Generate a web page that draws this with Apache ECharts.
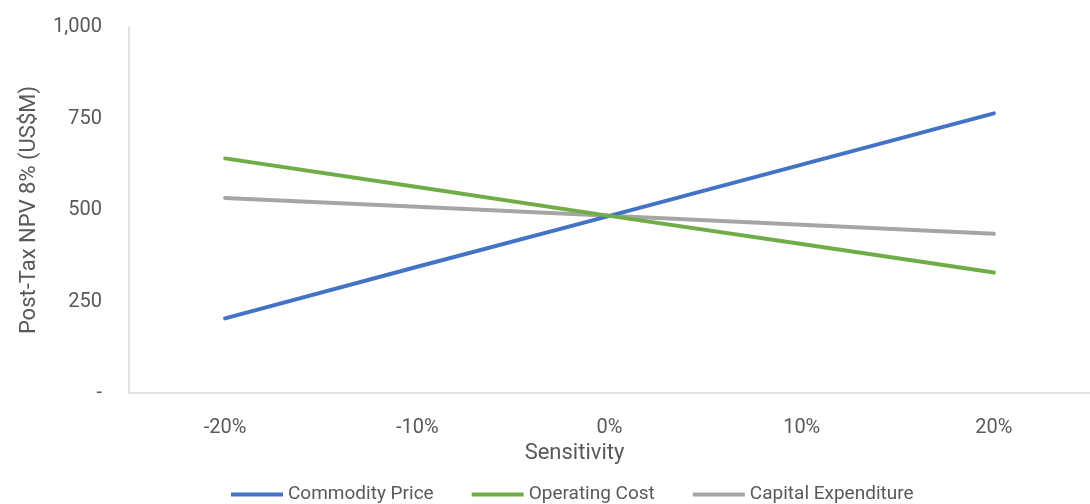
<!DOCTYPE html>
<html>
<head>
<meta charset="utf-8">
<script src="https://cdn.jsdelivr.net/npm/echarts@6/dist/echarts.min.js"></script>
<style>
  html, body { margin: 0; padding: 0; background: #fff; }
  #chart { width: 1090px; height: 504px; }
</style>
</head>
<body>
<div id="chart"></div>
<script>
const sensitivity = ['-20%', '-10%', '0%', '10%', '20%']
const commodityPrice = [204, 345, 484, 624, 764]
const operatingCost = [641, 563, 484, 407, 329]
const capitalExpenditure = [533, 509, 484, 460, 435]

const font = 'Roboto, sans-serif'
const textColor = '#595959'

let myChart = echarts.init(document.getElementById('chart'))
var option = {
    textStyle: { fontFamily: font },
    animation: false,
    grid: { left: 129, top: 27, width: 970, height: 366 },
    legend: {
        top: 480,
        left: 226,
        itemWidth: 52,
        itemHeight: 4,
        itemGap: 38,
        icon: 'rect',
        textStyle: { fontFamily: font, fontSize: 19, color: textColor },
        data: ['Commodity Price', 'Operating Cost', 'Capital Expenditure']
    },
    xAxis: {
        type: 'category',
        data: sensitivity,
        name: 'Sensitivity',
        nameLocation: 'middle',
        nameGap: 46,
        nameTextStyle: { fontFamily: font, fontSize: 22, color: textColor, padding: [0, 70, 0, 0] },
        axisLine: { lineStyle: { color: '#d9d9d9', width: 1.5 } },
        axisTick: { show: false },
        axisLabel: { fontFamily: font, fontSize: 20, color: textColor, margin: 25 }
    },
    yAxis: {
        type: 'value',
        min: 0,
        max: 1000,
        interval: 250,
        name: 'Post-Tax NPV 8% (US$M)',
        nameLocation: 'middle',
        nameGap: 89,
        nameTextStyle: { fontFamily: font, fontSize: 22, color: textColor },
        axisLine: { show: true, lineStyle: { color: '#d9d9d9', width: 1.5 } },
        axisTick: { show: false },
        splitLine: { show: false },
        axisLabel: {
            fontFamily: font, fontSize: 20, color: textColor, margin: 27,
            formatter: function (v) {
                if (v === 0) return '-'
                return v.toLocaleString('en-US')
            }
        }
    },
    series: [
        { name: 'Commodity Price', type: 'line', data: commodityPrice, symbol: 'none',
          lineStyle: { color: '#4472C4', width: 4, cap: 'round' }, itemStyle: { color: '#4472C4' } },
        { name: 'Operating Cost', type: 'line', data: operatingCost, symbol: 'none',
          lineStyle: { color: '#70AD47', width: 4, cap: 'round' }, itemStyle: { color: '#70AD47' } },
        { name: 'Capital Expenditure', type: 'line', data: capitalExpenditure, symbol: 'none', z: 1,
          lineStyle: { color: '#A5A5A5', width: 4, cap: 'round' }, itemStyle: { color: '#A5A5A5' } }
    ]
}
myChart.setOption(option)
</script>
</body>
</html>
